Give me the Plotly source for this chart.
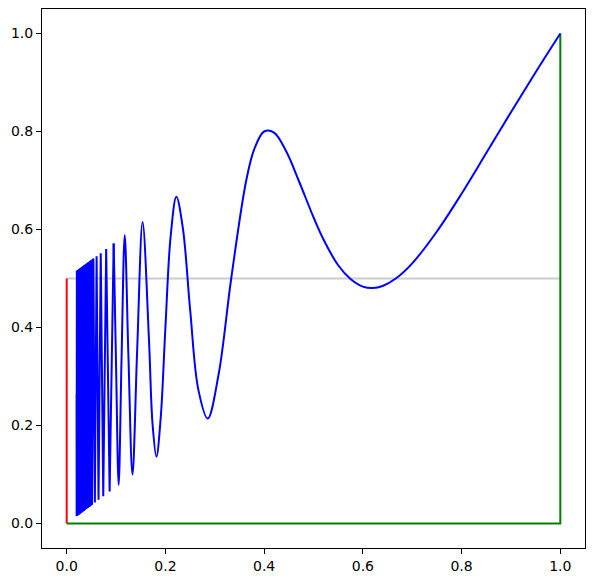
import plotly.graph_objects as go

# === curve points ===
# dense oscillations near zero (peaks and troughs only)
dense_x = [0.0200, 0.0202, 0.0206, 0.0211, 0.0215, 0.0220, 0.0225, 0.0230, 0.0235, 0.0241,
           0.0247, 0.0253, 0.0260, 0.0267, 0.0274, 0.0282, 0.0290, 0.0299, 0.0308, 0.0317,
           0.0328, 0.0339, 0.0351, 0.0364, 0.0377, 0.0392, 0.0408, 0.0426, 0.0444, 0.0465,
           0.0488, 0.0513, 0.0541, 0.0571, 0.0606, 0.0645, 0.0690, 0.0741, 0.0800, 0.0870,
           0.0952]
dense_y = [0.2650, 0.0152, 0.5155, 0.0158, 0.5161, 0.0165, 0.5169, 0.0172, 0.5176, 0.0181,
           0.5185, 0.0190, 0.5195, 0.0200, 0.5205, 0.0211, 0.5217, 0.0224, 0.5231, 0.0238,
           0.5246, 0.0254, 0.5263, 0.0273, 0.5283, 0.0294, 0.5306, 0.0319, 0.5333, 0.0349,
           0.5366, 0.0385, 0.5405, 0.0429, 0.5455, 0.0484, 0.5517, 0.0556, 0.5600, 0.0652,
           0.5714]
# outline of the part where the swings merge into a solid block
block_x = [0.0200, 0.0206, 0.0260, 0.0328, 0.0408, 0.0488, 0.0541,
           0.0513, 0.0426, 0.0339, 0.0267, 0.0202, 0.0200]
block_y = [0.0152, 0.5155, 0.5195, 0.5246, 0.5306, 0.5366, 0.5405,
           0.0385, 0.0319, 0.0254, 0.0200, 0.0152, 0.0152]
# smooth part
curve_x = [0.0952, 0.1000, 0.1053, 0.1111, 0.1176, 0.1250, 0.1333, 0.1429, 0.1538, 0.1667,
           0.1739, 0.1818, 0.1905, 0.2000, 0.2105, 0.2222, 0.2353, 0.2500, 0.2667, 0.2857,
           0.3077, 0.3333, 0.3636, 0.3800, 0.4000, 0.4200, 0.4444, 0.4700, 0.5000, 0.5200,
           0.5500, 0.5750, 0.6000, 0.6200, 0.6400, 0.6667, 0.7000, 0.7500, 0.8000, 0.8500,
           0.9000, 0.9500, 1.0000]
curve_y = [0.5714, 0.3250, 0.0789, 0.3333, 0.5882, 0.3438, 0.1000, 0.3571, 0.6154, 0.3750,
           0.2036, 0.1364, 0.2161, 0.4000, 0.5847, 0.6667, 0.6033, 0.4375, 0.2732, 0.2143,
           0.3040, 0.5000, 0.6995, 0.7640, 0.8000, 0.7978, 0.7601, 0.7000, 0.6250, 0.5800,
           0.5270, 0.4990, 0.4835, 0.4805, 0.4848, 0.5000, 0.5310, 0.5960, 0.6730, 0.7560,
           0.8395, 0.9210, 1.0000]

# reference lines
mid_x = [0, 1]
mid_y = [0.5, 0.5]
red_x = [0, 0]
red_y = [0, 0.5]
green_x = [0, 1, 1]
green_y = [0, 0, 1]

fig = go.Figure()
fig.add_trace(go.Scatter(x=mid_x, y=mid_y, mode='lines', line=dict(color='#cccccc', width=2)))
fig.add_trace(go.Scatter(x=red_x, y=red_y, mode='lines', line=dict(color='red', width=2)))
fig.add_trace(go.Scatter(x=green_x, y=green_y, mode='lines', line=dict(color='green', width=2)))
fig.add_trace(go.Scatter(x=block_x, y=block_y, mode='lines', fill='toself', fillcolor='blue',
                         line=dict(color='blue', width=1)))
fig.add_trace(go.Scatter(x=dense_x, y=dense_y, mode='lines', line=dict(color='blue', width=2)))
fig.add_trace(go.Scatter(x=curve_x, y=curve_y, mode='lines',
                         line=dict(color='blue', width=2, shape='spline', smoothing=1)))

axis_style = dict(range=[-0.05, 1.05], dtick=0.2, tickformat='.1f', showgrid=False, zeroline=False,
                  showline=True, mirror=True, linecolor='black', linewidth=1,
                  ticks='outside', ticklen=5, tickcolor='black',
                  tickfont=dict(family='DejaVu Sans', size=14, color='black'))

# page body has an 8px margin, so the figure is 8px smaller
fig.update_layout(width=586, height=574, showlegend=False,
                  plot_bgcolor='white', paper_bgcolor='white',
                  margin=dict(l=34, r=9, t=1, b=34),
                  xaxis=axis_style, yaxis=axis_style)
fig.write_html("out.html")
